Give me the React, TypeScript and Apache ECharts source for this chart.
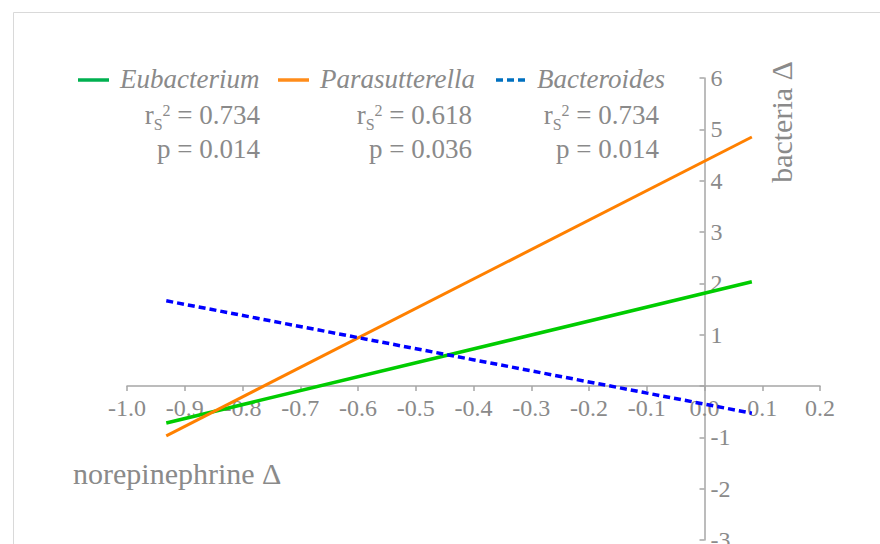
import React, { useEffect, useRef } from "react";
import * as echarts from "echarts";

const xRange = [-0.932, 0.082];
const eubacterium = [-0.72, 2.03];
const parasutterella = [-0.97, 4.85];
const bacteroides = [1.66, -0.53];

const legendNames = ["Eubacterium", "Parasutterella", "Bacteroides"];
const rs2Values = ["0.734", "0.618", "0.734"];
const pValues = ["0.014", "0.036", "0.014"];
const lineColors = ["#00CC00", "#FF8000", "#0000FF"];
const legendColors = ["#00B050", "#FF8C1A", "#0070C0"];

const xAxisName = "norepinephrine Δ";
const yAxisName = "bacteria Δ";

const GREY = "#8a8a8a";
const AXIS = "#a6a6a6";
const FONT = "Times New Roman, Liberation Serif, DejaVu Serif, serif";

export default function App() {
  const ref = useRef<HTMLDivElement>(null);
  useEffect(() => {
    if (!ref.current) return;
    const chart = echarts.init(ref.current, null, { renderer: "svg" });
    const mk = (ys: number[]) => xRange.map((x, i) => [x, ys[i]]);
    const legendX = [78, 278, 496];
    const textX = [120, 320, 537];
    const rightX = [260, 472, 659];
    const graphics: any[] = [
      {
        type: "rect",
        shape: { x: 13.5, y: 12.5, width: 900, height: 600 },
        style: { fill: "none", stroke: "#d9d9d9", lineWidth: 1 },
        silent: true,
      },
    ];
    legendNames.forEach((n, i) => {
      graphics.push({
        type: "line",
        shape: { x1: legendX[i], y1: 80, x2: legendX[i] + 31, y2: 80 },
        style: {
          stroke: legendColors[i],
          lineWidth: 3.5,
          lineDash: i === 2 ? [7, 4] : null,
        },
      });
      graphics.push({
        type: "text",
        x: textX[i],
        y: 79,
        style: {
          text: n,
          fontFamily: FONT,
          fontSize: 27,
          fontStyle: "italic",
          fill: GREY,
          align: "left",
          verticalAlign: "middle",
        },
      });
      graphics.push({
        type: "text",
        x: rightX[i],
        y: 115,
        style: {
          text: `{r|r}{s|S}{p|2}{r| = ${rs2Values[i]}}`,
          fill: GREY,
          fontFamily: FONT,
          fontSize: 27,
          align: "right",
          verticalAlign: "middle",
          rich: {
            r: { fontSize: 27, fontFamily: FONT, fill: GREY, lineHeight: 34, verticalAlign: "middle" },
            s: { fontSize: 16, fontFamily: FONT, fill: GREY, verticalAlign: "bottom" },
            p: { fontSize: 16, fontFamily: FONT, fill: GREY, height: 24, verticalAlign: "top" },
          },
        },
      });
      graphics.push({
        type: "text",
        x: rightX[i],
        y: 149,
        style: {
          text: `p = ${pValues[i]}`,
          fontFamily: FONT,
          fontSize: 27,
          fill: GREY,
          align: "right",
          verticalAlign: "middle",
        },
      });
    });
    graphics.push({
      type: "text",
      x: 73,
      y: 473,
      style: {
        text: xAxisName,
        fontFamily: FONT,
        fontSize: 30,
        fill: GREY,
        align: "left",
        verticalAlign: "middle",
      },
    });
    graphics.push({
      type: "text",
      x: 781,
      y: 122,
      rotation: Math.PI / 2,
      style: {
        text: yAxisName,
        fontFamily: FONT,
        fontSize: 30,
        fill: GREY,
        align: "center",
        verticalAlign: "middle",
      },
    });

    chart.setOption({
      animation: false,
      grid: { left: 127, right: 60, top: 78, bottom: 4, outerBoundsMode: "none", containLabel: false },
      xAxis: {
        type: "value",
        min: -1,
        max: 0.2,
        interval: 0.1,
        offset: -154,
        splitLine: { show: false },
        axisLine: { show: true, onZero: false, lineStyle: { color: AXIS, width: 1.5 } },
        axisTick: { show: true, length: 5, lineStyle: { color: AXIS, width: 1.5 } },
        axisLabel: {
          color: GREY,
          fontSize: 24,
          fontFamily: FONT,
          margin: 10,
          formatter: (v: number) => (Math.abs(v) < 1e-9 ? "0.0" : v.toFixed(1)),
        },
      },
      yAxis: {
        type: "value",
        position: "right",
        offset: -115.5,
        min: -3,
        max: 6,
        interval: 1,
        splitLine: { show: false },
        axisLine: { show: true, onZero: false, lineStyle: { color: AXIS, width: 1.5 } },
        axisTick: { show: true, inside: true, length: 5, lineStyle: { color: AXIS, width: 1.5 } },
        axisLabel: {
          color: GREY,
          fontSize: 24,
          fontFamily: FONT,
          margin: 6,
          formatter: (v: number) => (Math.abs(v) < 1e-9 ? "" : String(Math.round(v))),
        },
      },
      series: [
        {
          type: "line",
          data: mk(eubacterium),
          symbol: "none",
          lineStyle: { color: lineColors[0], width: 3.5 },
        },
        {
          type: "line",
          data: mk(parasutterella),
          symbol: "none",
          lineStyle: { color: lineColors[1], width: 3 },
        },
        {
          type: "line",
          data: mk(bacteroides),
          symbol: "none",
          lineStyle: { color: lineColors[2], width: 3.5, type: [7, 4] },
        },
      ],
      graphic: graphics,
    });
    return () => chart.dispose();
  }, []);
  return (
    <div
      ref={ref}
      style={{ position: "absolute", left: 0, top: 0, width: 880, height: 544 }}
    />
  );
}
